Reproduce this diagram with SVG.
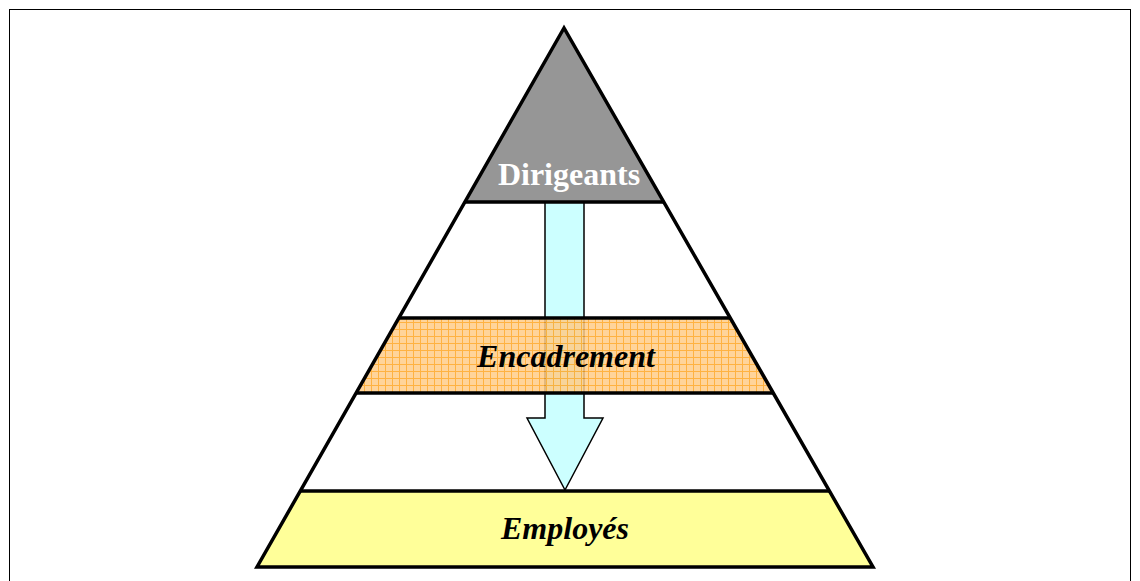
<svg xmlns="http://www.w3.org/2000/svg" width="1140" height="581" viewBox="0 0 1140 581">
<style>
.lbl{font-family:"Liberation Serif","Times New Roman",serif;font-weight:bold;font-size:32px;text-anchor:middle}
.edge{stroke:#000;stroke-width:3.5;fill:none;stroke-linejoin:miter}
</style>
<defs>
<pattern id="grid" width="7" height="7" patternUnits="userSpaceOnUse">
<rect width="7" height="7" fill="#FFCC88"/>
<path d="M0 0.5H7M0.5 0V7" stroke="#FFA520" stroke-width="1"/>
</pattern>
</defs>
<rect x="0" y="0" width="1140" height="581" fill="#fff"/>
<rect x="9.5" y="9.5" width="1121" height="580" fill="none" stroke="#000" stroke-width="1"/>
<g id="pyramid">
<polygon points="564,28 257,567 873,567" fill="#fff"/>
</g>
<g id="dirigeants">
<polygon points="564,28 465,202 664,202" fill="#969696"/>
<text class="lbl" x="569" y="185" fill="#fff" font-style="normal" font-size="30">Dirigeants</text>
</g>
<g id="employes">
<polygon points="300,491 829,491 873,567 257,567" fill="#FFFF99"/>
<text class="lbl" x="565" y="539" font-style="italic">Employés</text>
</g>
<g id="connectors">
<path d="M545,202 L584,202 L584,418 L603,418 L565,490 L527,418 L545,418 Z" fill="#CCFFFF" stroke="#000" stroke-width="1.5" stroke-linejoin="miter"/>
</g>
<g id="encadrement">
<polygon points="398,318 730,318 773,393 356,393" fill="url(#grid)" fill-opacity="0.85"/>
<text class="lbl" x="566" y="367" font-style="italic">Encadrement</text>
</g>
<g id="outline">
<path class="edge" d="M465,202H664M398,318H730M356,393H773M300,491H829"/>
<polygon class="edge" points="564,28 257,567 873,567"/>
</g>
</svg>
